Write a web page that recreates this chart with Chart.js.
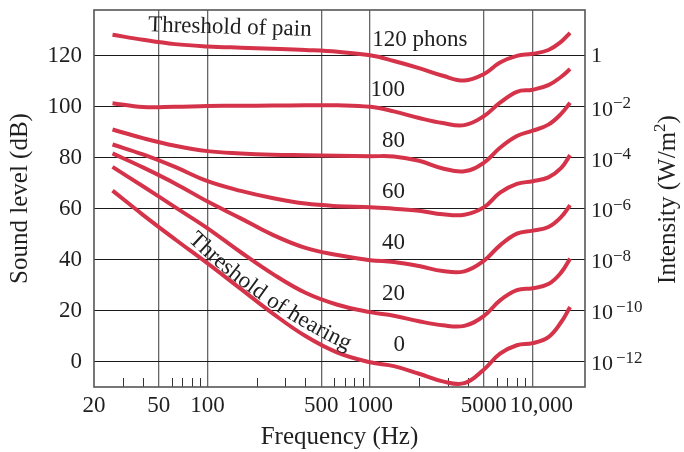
<!DOCTYPE html>
<html>
<head>
<meta charset="utf-8">
<script src="https://cdn.jsdelivr.net/npm/chart.js@4.4.1/dist/chart.umd.min.js"></script>
<style>
html,body{margin:0;padding:0;background:#ffffff;}
#wrap{width:684px;height:452px;}
</style>
</head>
<body>
<div id="wrap"><canvas id="c" width="684" height="452"></canvas></div>
<script>
// ---------- data ----------
const frequencies = [26, 40, 63, 100, 160, 250, 400, 630, 1000, 1400, 2000, 2800, 3800, 5000, 6300, 8000, 10000, 12500, 15000, 17000];
const phon0   = [67.1, 57.6, 48.0, 38.5, 28.5, 19.0, 10.0, 3.5, -0.3, -1.8, -4.8, -7.8, -8.5, -3.2, 3.1, 6.4, 7.2, 9.6, 15.5, 21.4];
const phon20  = [76.4, 68.8, 60.6, 52.3, 42.9, 34.5, 27.0, 22.3, 19.4, 18.0, 15.8, 14.2, 14.0, 17.8, 24.0, 28.0, 28.8, 30.4, 35.0, 40.4];
const phon40  = [81.7, 76.2, 69.9, 62.8, 56.2, 49.8, 44.6, 41.8, 39.8, 39.1, 37.5, 35.5, 35.4, 39.5, 45.6, 50.2, 51.4, 52.8, 56.8, 61.4];
const phon60  = [85.2, 81.3, 76.4, 70.8, 67.0, 64.2, 62.0, 61.0, 60.6, 60.0, 59.2, 57.8, 57.6, 60.5, 66.3, 69.7, 70.8, 72.3, 76.0, 81.0];
const phon80  = [91.1, 87.7, 84.7, 82.6, 81.7, 81.2, 81.0, 80.8, 80.6, 80.5, 78.8, 75.8, 74.7, 78.0, 83.9, 88.5, 90.6, 93.0, 97.3, 101.6];
const phon100 = [101.4, 99.9, 100.0, 100.3, 100.4, 100.5, 100.6, 100.6, 100.0, 98.2, 95.6, 93.6, 92.8, 96.3, 101.6, 105.9, 106.7, 108.5, 111.8, 114.8];
const phon120 = [128.3, 126.3, 124.6, 123.7, 123.2, 122.8, 122.3, 121.6, 120.2, 118.0, 115.2, 112.2, 110.3, 112.8, 117.4, 120.0, 120.8, 122.3, 125.6, 129.0];

const phonLevels = [0, 20, 40, 60, 80, 100, 120];
const phonLabels = ["0", "20", "40", "60", "80", "100", "120 phons"];
const yTickValues = [0, 20, 40, 60, 80, 100, 120];
const intensityExponents = [-12, -10, -8, -6, -4, -2, 0];
const xTickValues = [20, 50, 100, 500, 1000, 5000, 10000];
const xTickLabels = ["20", "50", "100", "500", "1000", "5000", "\u2002 10,000"];
const xMinorTicks = [30, 40, 60, 70, 80, 90, 200, 300, 400, 600, 700, 800, 900, 2000, 3000, 4000, 6000, 7000, 8000, 9000];

// ---------- style ----------
const FONT = "'Liberation Serif', 'Times New Roman', serif";
const RED = '#d5334a';
const INK = '#1f1f1f';

const series = [phon0, phon20, phon40, phon60, phon80, phon100, phon120];
const datasets = series.map((vals, i) => ({
  label: phonLabels[i],
  data: frequencies.map((f, j) => ({x: f, y: vals[j]})),
  borderColor: RED,
  borderWidth: 4,
  pointRadius: 0,
  fill: false,
  tension: 0.4,
  borderCapStyle: 'butt',
  clip: false
}));

const annotations = {
  id: 'annotations',
  beforeDatasetsDraw(chart) {
    const {ctx, chartArea: a, scales: {x}} = chart;
    ctx.save();
    ctx.strokeStyle = '#333';
    ctx.lineWidth = 1;
    xMinorTicks.forEach(v => {
      const px = Math.round(x.getPixelForValue(v)) + 0.5;
      ctx.beginPath();
      ctx.moveTo(px, a.bottom);
      ctx.lineTo(px, a.bottom - 9);
      ctx.stroke();
    });
    ctx.strokeStyle = '#555';
    ctx.lineWidth = 1.6;
    ctx.strokeRect(a.left, a.top, a.right - a.left, a.bottom - a.top);
    ctx.restore();
  },
  afterDatasetsDraw(chart) {
    const {ctx, chartArea: a, scales: {x, y}} = chart;
    ctx.save();
    ctx.fillStyle = INK;
    ctx.font = `23px ${FONT}`;
    ctx.textBaseline = 'middle';
    phonLevels.forEach((p, i) => {
      if (p === 120) {
        ctx.textAlign = 'left';
        ctx.fillText(phonLabels[i], x.getPixelForValue(1030), y.getPixelForValue(126.4));
      } else {
        ctx.textAlign = 'right';
        ctx.fillText(phonLabels[i], x.getPixelForValue(1640), y.getPixelForValue(p + 6.5));
      }
    });
    ctx.save();
    ctx.textAlign = 'center';
    ctx.translate(x.getPixelForValue(137), y.getPixelForValue(131.1));
    ctx.rotate(1.6 * Math.PI / 180);
    ctx.fillText('Threshold of pain', 0, 0);
    ctx.restore();
    const text = 'Threshold of hearing';
    ctx.textAlign = 'center';
    const total = ctx.measureText(text).width;
    let px = x.getPixelForValue(80), py = y.getPixelForValue(49.2);
    let s = 0;
    const a0 = 44, a1 = 25;
    for (const ch of text) {
      const w = ctx.measureText(ch).width;
      const ang = (a0 + (a1 - a0) * (s + w / 2) / total) * Math.PI / 180;
      const cx = px + Math.cos(ang) * w / 2, cy = py + Math.sin(ang) * w / 2;
      ctx.save();
      ctx.translate(cx, cy);
      ctx.rotate(ang);
      ctx.fillText(ch, 0, 0);
      ctx.restore();
      px += Math.cos(ang) * w;
      py += Math.sin(ang) * w;
      s += w;
    }
    ctx.textAlign = 'left';
    const lx = a.right + 6;
    yTickValues.forEach((v, i) => {
      const e = intensityExponents[i];
      const py0 = y.getPixelForValue(v);
      ctx.font = `22px ${FONT}`;
      if (e === 0) {
        ctx.fillText('1', lx, py0);
      } else {
        ctx.fillText('10', lx, py0 + 3);
        const w10 = ctx.measureText('10').width;
        ctx.font = `17px ${FONT}`;
        const gap = Math.abs(e) >= 10 ? 3 : 0;
        ctx.fillText('\u2212' + Math.abs(e), lx + w10 + gap, py0 - 3);
      }
    });
    ctx.save();
    ctx.translate(668, (a.top + a.bottom) / 2 + 1);
    ctx.rotate(-Math.PI / 2);
    ctx.font = `25px ${FONT}`;
    const t1 = 'Intensity (W/m', t3 = ')';
    const w1 = ctx.measureText(t1).width, w3 = ctx.measureText(t3).width;
    ctx.font = `17px ${FONT}`;
    const w2 = ctx.measureText('2').width;
    const tw = w1 + w2 + w3;
    const sx = -tw / 2;
    ctx.font = `25px ${FONT}`;
    ctx.textAlign = 'left';
    ctx.fillText(t1, sx, 0);
    ctx.font = `17px ${FONT}`;
    ctx.fillText('2', sx + w1, -7);
    ctx.font = `25px ${FONT}`;
    ctx.fillText(t3, sx + w1 + w2, 0);
    ctx.restore();
    ctx.restore();
  }
};

new Chart(document.getElementById('c'), {
  type: 'line',
  data: {datasets},
  plugins: [annotations],
  options: {
    responsive: false,
    animation: false,
    events: [],
    layout: {padding: {top: 10, right: 99, left: 0, bottom: 0}},
    plugins: {legend: {display: false}, tooltip: {enabled: false}},
    scales: {
      x: {
        type: 'logarithmic',
        min: 20,
        max: 21000,
        afterBuildTicks: s => { s.ticks = xTickValues.map(v => ({value: v})); },
        afterFit: s => { s.height = 65; s.paddingLeft = 0; s.paddingRight = 0; },
        grid: {
          color: c => (c.tick && c.tick.value === 20) ? 'rgba(0,0,0,0)' : '#666666',
          lineWidth: 1.3,
          drawTicks: false
        },
        border: {display: false},
        ticks: {
          autoSkip: false, maxRotation: 0, minRotation: 0, padding: 5,
          color: INK, font: {family: FONT, size: 23},
          callback: (v, i) => xTickLabels[i]
        },
        title: {display: true, text: 'Frequency (Hz)', color: INK, font: {family: FONT, size: 25}, padding: {top: 0, bottom: 0}}
      },
      y: {
        min: -10,
        max: 138,
        afterBuildTicks: s => { s.ticks = yTickValues.map(v => ({value: v})); },
        afterFit: s => { s.width = 94; s.paddingTop = 0; s.paddingBottom = 0; },
        grid: {color: '#1a1a1a', lineWidth: 1.1, drawTicks: false},
        border: {display: false},
        ticks: {padding: 12, color: INK, font: {family: FONT, size: 23}, callback: v => String(v)},
        title: {display: true, text: 'Sound level (dB)', color: INK, font: {family: FONT, size: 25}, padding: {top: 5, bottom: 0}}
      }
    }
  }
});
</script>
</body>
</html>
